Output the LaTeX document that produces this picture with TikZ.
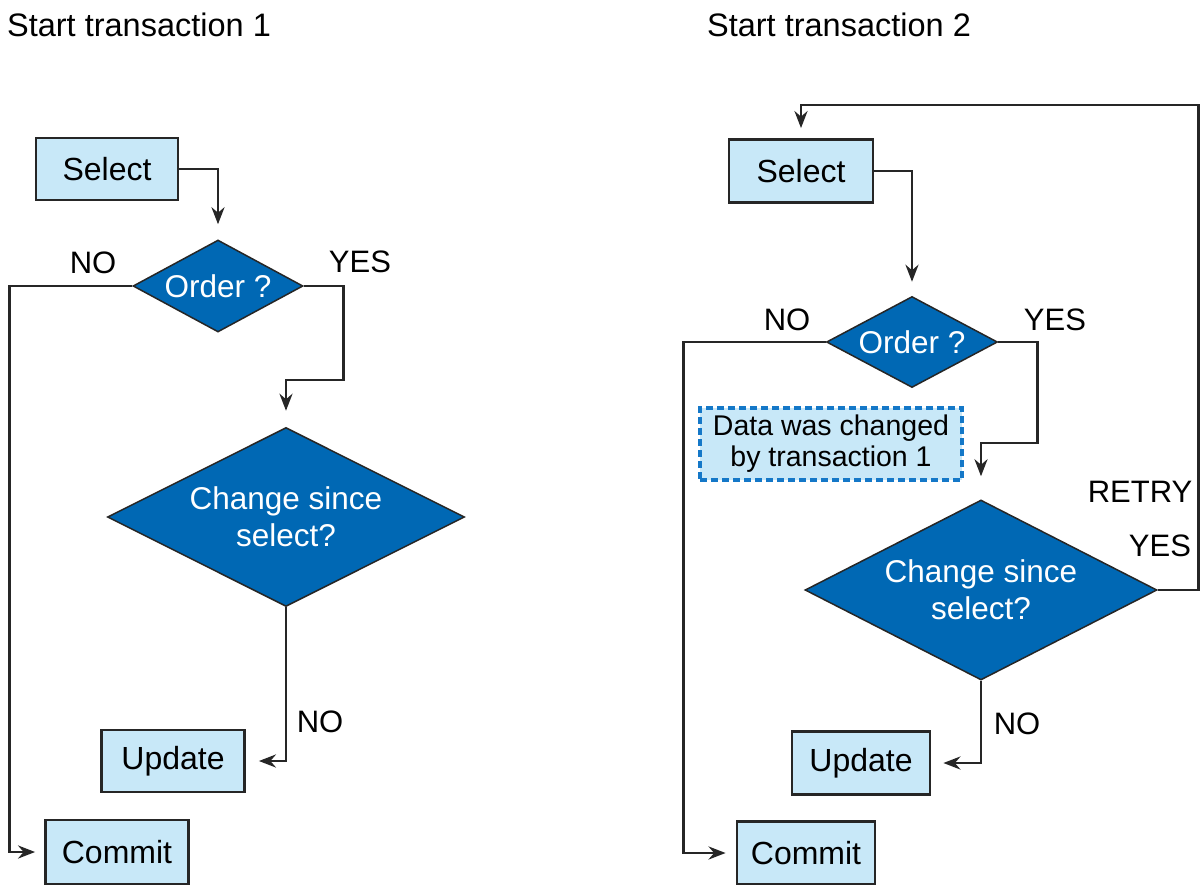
\documentclass[tikz,border=0pt]{standalone}
\usepackage{fontspec}
\setmainfont{Liberation Sans}
\usetikzlibrary{shapes.geometric,arrows.meta}

\definecolor{boxblue}{RGB}{200,232,248}
\definecolor{decblue}{RGB}{0,104,180}
\definecolor{noteblue}{RGB}{20,120,200}

\begin{document}
\begin{tikzpicture}[x=1pt,y=-1pt,
      stepbox/.style={draw=black!85,fill=boxblue,line width=2.8pt,minimum width=142pt,minimum height=62pt,font=\fontsize{32}{36}\selectfont},
      decision/.style={diamond,draw=black!85,fill=decblue,line width=1.5pt,inner sep=0pt,shape aspect=1.9,text=white,align=center,font=\fontsize{31.5}{37}\selectfont},
      note/.style={draw=noteblue,dashed,dash pattern=on 7pt off 4pt,fill=boxblue,line width=3.2pt,align=center,minimum width=262pt,minimum height=72pt,font=\fontsize{28.5}{31}\selectfont},
      lbl/.style={font=\fontsize{31}{35}\selectfont},
      flow/.style={->,>={Stealth[length=17pt,width=13pt]},line width=2.8pt,draw=black!85}]

      \useasboundingbox (0,0) rectangle (1200,884);

      % transaction 1
      \node[lbl,font=\fontsize{32.5}{36}\selectfont] (start1) at (139,25) {Start transaction 1};
      \node[stepbox] (select1) at (107,169) {Select};
      \node[decision,minimum width=170pt,minimum height=92pt] (order1) at (218,286) {Order ?};
      \node[decision,minimum width=357pt,minimum height=179pt] (change1) at (286,517) {Change since\\select?};
      \node[stepbox,minimum width=143pt] (update1) at (173,761) {Update};
      \node[stepbox,minimum width=143pt,minimum height=64pt] (commit1) at (117,852) {Commit};

      \node[lbl] (no1) at (93,263) {NO};
      \node[lbl] (yes1) at (360,262) {YES};
      \node[lbl] (no1b) at (320,722) {NO};

      \draw[flow,shorten >=15pt] (select1.east) -| (order1.north);
      \draw[flow,shorten >=9pt] (order1.west) -- ++(-123,0) |- (commit1.west);
      \draw[flow,shorten >=16pt] (order1.east) -- ++(40,0) -- ++(0,94) -| (change1.north);
      \draw[flow,shorten >=13pt] (change1.south) |- (update1.east);

      % transaction 2
      \node[lbl,font=\fontsize{32.5}{36}\selectfont] (start2) at (839,25) {Start transaction 2};
      \node[stepbox,minimum width=144pt,minimum height=63pt] (select2) at (801,171) {Select};
      \node[decision,minimum width=171pt,minimum height=91pt] (order2) at (912,342) {Order ?};
      \node[note] (changed) at (831,444) {Data was changed\\by transaction 1};
      \node[decision,minimum width=352pt,minimum height=180pt] (change2) at (981,590) {Change since\\select?};
      \node[stepbox,minimum width=138pt,minimum height=63pt] (update2) at (861,763) {Update};
      \node[stepbox,minimum width=138pt,minimum height=63pt] (commit2) at (806,853) {Commit};

      \node[lbl] (no2) at (787,320) {NO};
      \node[lbl] (yes2) at (1055,320) {YES};
      \node[lbl] (retry) at (1140,492) {RETRY};
      \node[lbl] (yes2b) at (1160,546) {YES};
      \node[lbl] (no2b) at (1017,724) {NO};

      \draw[flow,shorten >=14pt] (select2.east) -| (order2.north);
      \draw[flow,shorten >=10pt] (order2.west) -- ++(-142,0) |- (commit2.west);
      \draw[flow,shorten >=23pt] (order2.east) -- ++(39,0) -- ++(0,101) -| (change2.north);
      \draw[flow,shorten >=10pt] (change2.east) -- ++(41,0) -- ++(0,-485) -| (select2.north);
      \draw[flow,shorten >=12pt] (change2.south) |- (update2.east);

    \end{tikzpicture}
\end{document}
